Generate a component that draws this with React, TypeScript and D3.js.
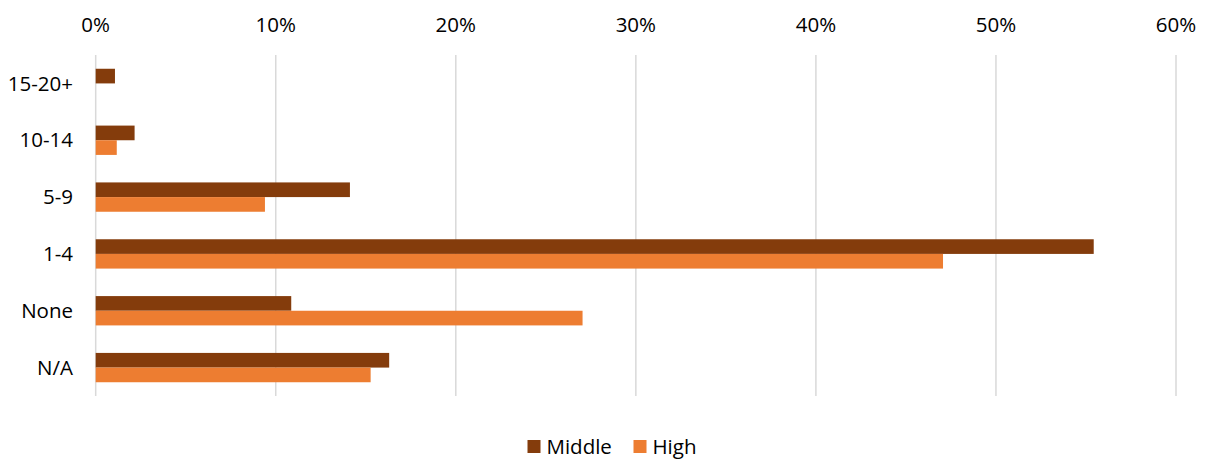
import React from "react";
import * as d3 from "d3";

const categories = ["15-20+", "10-14", "5-9", "1-4", "None", "N/A"];
const seriesNames = ["Middle", "High"];
const middleValues = [1.07, 2.16, 14.12, 55.43, 10.86, 16.3];
const highValues = [0, 1.17, 9.4, 47.06, 27.04, 15.27];
const xTicks = [0, 10, 20, 30, 40, 50, 60];
const colors = ["#843C0C", "#ED7D31"];

const W = 1206;
const H = 460;
const FONT = "'Open Sans', sans-serif";
const FS = 20.5;

export default function App() {
  const left = 95.7;
  const right = 1176;
  const top = 55;
  const bottom = 396;
  const x = d3.scaleLinear().domain([0, 60]).range([left, right]);
  const y = d3.scaleBand<string>().domain(categories).range([top, bottom]).paddingInner(0.484).paddingOuter(0.242);
  const sub = d3.scaleBand<string>().domain(seriesNames).range([0, y.bandwidth()]);
  const series = [middleValues, highValues];

  return (
    <svg width={W} height={H} style={{ position: "absolute", left: 0, top: 0, background: "#fff" }} fontFamily={FONT}>
      {xTicks.map((t) => (
        <g key={t}>
          <line x1={x(t)} x2={x(t)} y1={top} y2={bottom} stroke="#D9D9D9" strokeWidth={1.5} />
          <text x={x(t)} y={32} textAnchor="middle" fontSize={FS} fill="#000">
            {t + "%"}
          </text>
        </g>
      ))}
      {categories.map((c, i) => (
        <g key={c}>
          {series.map((vals, s) => (
            <rect
              key={s}
              x={x(0)}
              y={(y(c) as number) + (sub(seriesNames[s]) as number)}
              width={x(vals[i]) - x(0)}
              height={sub.bandwidth()}
              fill={colors[s]}
            />
          ))}
          <text x={73} y={(y(c) as number) + y.bandwidth() / 2} dy="0.35em" textAnchor="end" fontSize={FS} fill="#000">
            {c}
          </text>
        </g>
      ))}
      <g>
        <rect x={527.5} y={440} width={13} height={13} fill={colors[0]} />
        <text x={546.5} y={453.5} fontSize={FS} fill="#000">Middle</text>
        <rect x={633.5} y={440} width={13} height={13} fill={colors[1]} />
        <text x={652.5} y={453.5} fontSize={FS} fill="#000">High</text>
      </g>
    </svg>
  );
}
